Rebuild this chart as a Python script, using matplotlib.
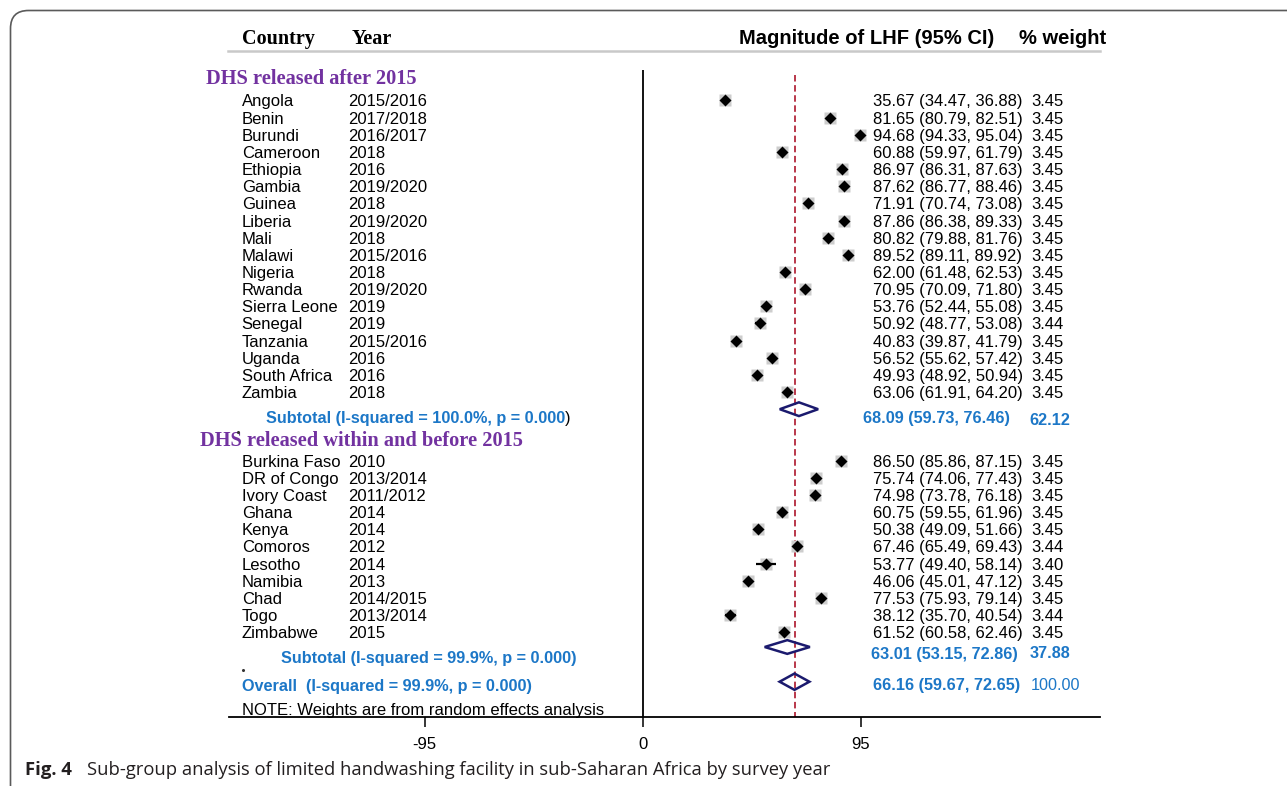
import numpy as np
import matplotlib
matplotlib.use("Agg")
import matplotlib.pyplot as plt
from matplotlib import transforms
from matplotlib.patches import Polygon, FancyBboxPatch
from matplotlib.lines import Line2D

# ---------------- data ----------------
countries1 = ["Angola", "Benin", "Burundi", "Cameroon", "Ethiopia", "Gambia", "Guinea",
              "Liberia", "Mali", "Malawi", "Nigeria", "Rwanda", "Sierra Leone", "Senegal",
              "Tanzania", "Uganda", "South Africa", "Zambia"]
years1 = ["2015/2016", "2017/2018", "2016/2017", "2018", "2016", "2019/2020", "2018",
          "2019/2020", "2018", "2015/2016", "2018", "2019/2020", "2019", "2019",
          "2015/2016", "2016", "2016", "2018"]
est1 = [35.67, 81.65, 94.68, 60.88, 86.97, 87.62, 71.91, 87.86, 80.82, 89.52, 62.00,
        70.95, 53.76, 50.92, 40.83, 56.52, 49.93, 63.06]
lo1 = [34.47, 80.79, 94.33, 59.97, 86.31, 86.77, 70.74, 86.38, 79.88, 89.11, 61.48,
       70.09, 52.44, 48.77, 39.87, 55.62, 48.92, 61.91]
hi1 = [36.88, 82.51, 95.04, 61.79, 87.63, 88.46, 73.08, 89.33, 81.76, 89.92, 62.53,
       71.80, 55.08, 53.08, 41.79, 57.42, 50.94, 64.20]
w1 = [3.45, 3.45, 3.45, 3.45, 3.45, 3.45, 3.45, 3.45, 3.45, 3.45, 3.45, 3.45, 3.45,
      3.44, 3.45, 3.45, 3.45, 3.45]

countries2 = ["Burkina Faso", "DR of Congo", "Ivory Coast", "Ghana", "Kenya", "Comoros",
              "Lesotho", "Namibia", "Chad", "Togo", "Zimbabwe"]
years2 = ["2010", "2013/2014", "2011/2012", "2014", "2014", "2012", "2014", "2013",
          "2014/2015", "2013/2014", "2015"]
est2 = [86.50, 75.74, 74.98, 60.75, 50.38, 67.46, 53.77, 46.06, 77.53, 38.12, 61.52]
lo2 = [85.86, 74.06, 73.78, 59.55, 49.09, 65.49, 49.40, 45.01, 75.93, 35.70, 60.58]
hi2 = [87.15, 77.43, 76.18, 61.96, 51.66, 69.43, 58.14, 47.12, 79.14, 40.54, 62.46]
w2 = [3.45, 3.45, 3.45, 3.45, 3.45, 3.44, 3.40, 3.45, 3.45, 3.44, 3.45]

group_titles = ["DHS released after 2015", "DHS released within and before 2015"]
sub_labels = ["Subtotal (I-squared = 100.0%, p = 0.000", "Subtotal (I-squared = 99.9%, p = 0.000)"]
sub_est = [68.09, 63.01]
sub_lo = [59.73, 53.15]
sub_hi = [76.46, 72.86]
sub_w = [62.12, 37.88]
overall_label = "Overall  (I-squared = 99.9%, p = 0.000)"
overall_est, overall_lo, overall_hi, overall_w = 66.16, 59.67, 72.65, 100.00
xticks = [-95, 0, 95]
note = "NOTE: Weights are from random effects analysis"
caption_bold = "Fig. 4"
caption = "Sub-group analysis of limited handwashing facility in sub-Saharan Africa by survey year"

# ---------------- layout ----------------
W, H = 1287, 786
fig = plt.figure(figsize=(W / 100, H / 100), dpi=100)
fig.patch.set_facecolor("white")

ROW0, ROWH = 100.5, 17.15          # pixel y of row 0, row height
def prow(ypx):
    return (ypx - ROW0) / ROWH

ax_top_px, ax_bot_px = 60, 716.7
ax = fig.add_axes([229 / W, 1 - ax_bot_px / H, (1100 - 229) / W, (ax_bot_px - ax_top_px) / H])
ax.set_xlim(-180.3, 199.3)
ax.set_ylim(prow(ax_bot_px), prow(ax_top_px))
ax.patch.set_alpha(0)
for s in ["top", "left", "right"]:
    ax.spines[s].set_visible(False)
ax.spines["bottom"].set_linewidth(1.3)
ax.set_yticks([])
ax.set_xticks(xticks)
ax.set_xticklabels([str(t) for t in xticks])
ax.tick_params(axis="x", length=7.5, width=1.1, pad=7, labelsize=12)
for lab in ax.get_xticklabels():
    lab.set_fontfamily("Liberation Sans")

SANS = "Liberation Sans"
SERIF = "Liberation Serif"
BLUE = "#1c77c7"
PURPLE = "#7232a0"
NAVY = "#1b1a6e"
T = transforms.blended_transform_factory(fig.transFigure, ax.transData)
DY = 1.5 / ROWH   # small downward nudge for text centring

def tx(xpx, row, s, **kw):
    kw.setdefault("family", SANS)
    kw.setdefault("fontsize", 12)
    kw.setdefault("va", "center")
    return ax.text(xpx / W, row + DY, s, transform=T, **kw)

# rows
rows1 = np.arange(len(countries1))
sub1_row = len(countries1)
head2_row = prow(440)
rows2 = sub1_row + 3 + np.arange(len(countries2))
sub2_row = prow(647)
overall_row = prow(681.7)

# reference lines
ax.vlines(0, prow(70), prow(ax_bot_px), color="black", lw=1.3, clip_on=False)
ax.vlines(overall_est, prow(75), prow(ax_bot_px), color="#b3283b", lw=1.3,
          linestyles=(0, (3.6, 2.0)), clip_on=False)

# studies
def draw_studies(rows, est, lo, hi, w):
    est = np.asarray(est); lo = np.asarray(lo); hi = np.asarray(hi); w = np.asarray(w)
    ax.hlines(rows, lo, hi, color="black", lw=1.6, zorder=3)
    for r, e, ww in zip(rows, est, w):
        ax.plot(e, r, marker="s", ms=8.2 * np.sqrt(ww / 3.45), color="#cdcdcd",
                mec="none", zorder=2)
    ax.plot(est, rows, ls="none", marker="D", ms=5.9, color="black", mec="none", zorder=4)

draw_studies(rows1, est1, lo1, hi1, w1)
draw_studies(rows2, est2, lo2, hi2, w2)

def diamond(row, e, l, h, height):
    poly = Polygon([(l, row), (e, row - height / 2), (h, row), (e, row + height / 2)],
                   closed=True, fill=False, ec=NAVY, lw=1.8, zorder=5, joinstyle="miter")
    ax.add_patch(poly)

diamond(sub1_row, sub_est[0], sub_lo[0], sub_hi[0], 0.8)
diamond(sub2_row, sub_est[1], sub_lo[1], sub_hi[1], 0.8)
diamond(overall_row, overall_est, overall_lo, overall_hi, 0.95)

# ---------------- texts ----------------
tx(242, prow(38), "Country", family=SERIF, fontweight="bold", fontsize=14.5)
tx(352, prow(38), "Year", family=SERIF, fontweight="bold", fontsize=14.5)
tx(739, prow(37), "Magnitude of LHF (95% CI)", fontweight="bold", fontsize=14.5)
tx(1019, prow(37), "% weight", fontweight="bold", fontsize=14.5)
fig.add_artist(Line2D([228 / W, 1100 / W], [1 - 51 / H, 1 - 51 / H], color="#c9c9c9", lw=1.8))

tx(206, prow(78), group_titles[0], family=SERIF, fontweight="bold", fontsize=14.7, color=PURPLE)
tx(200, head2_row, group_titles[1], family=SERIF, fontweight="bold", fontsize=14.7, color=PURPLE)

# small stray dots present in the original
fig.add_artist(Line2D([238 / W], [1 - 432 / H], marker="o", ms=1.2, color="#333333", ls="none"))
fig.add_artist(Line2D([242.5 / W], [1 - 670 / H], marker="o", ms=1.2, color="#333333", ls="none"))

for rows, cs, ys, es, ls, hs, ws in [(rows1, countries1, years1, est1, lo1, hi1, w1),
                                     (rows2, countries2, years2, est2, lo2, hi2, w2)]:
    for r, c, y, e, l, h, w in zip(rows, cs, ys, es, ls, hs, ws):
        tx(241.7, r, c)
        tx(347.7, r, y)
        tx(872.7, r, f"{e:.2f} ({l:.2f}, {h:.2f})")
        tx(1031.7, r, f"{w:.2f}")

t1 = tx(266, prow(416.7), sub_labels[0], fontweight="bold", fontsize=11.7, color=BLUE)
ax.annotate(")", xy=(1, 0.5), xycoords=t1, va="center", ha="left", family=SANS,
            fontsize=11.7, color="black")
tx(863.3, prow(417.5), f"{sub_est[0]:.2f} ({sub_lo[0]:.2f}, {sub_hi[0]:.2f})",
   fontweight="bold", fontsize=11.7, color=BLUE)
tx(1029.3, prow(419), f"{sub_w[0]:.2f}", fontweight="bold", fontsize=11.7, color=BLUE)

tx(281, prow(656.5), sub_labels[1], fontweight="bold", fontsize=11.7, color=BLUE)
tx(871, prow(652.7), f"{sub_est[1]:.2f} ({sub_lo[1]:.2f}, {sub_hi[1]:.2f})",
   fontweight="bold", fontsize=11.7, color=BLUE)
tx(1030, prow(651.5), f"{sub_w[1]:.2f}", fontweight="bold", fontsize=11.7, color=BLUE)

tx(241.7, prow(685), overall_label, fontweight="bold", fontsize=11.7, color=BLUE)
tx(873, prow(684), f"{overall_est:.2f} ({overall_lo:.2f}, {overall_hi:.2f})",
   fontweight="bold", fontsize=11.7, color=BLUE)
tx(1030.5, prow(684), f"{overall_w:.2f}", fontsize=11.7, color=BLUE)

tx(241.7, prow(709.5), note)

# ---------------- frame & caption ----------------
frame = FancyBboxPatch((10.5, -30), 1400, H - 10.5 + 30, transform=None,
                       boxstyle="round,pad=0,rounding_size=18", fill=False,
                       ec="#5a5a5a", lw=1.2)
fig.add_artist(frame)
fig.text(25 / W, 1 - 770 / H, caption_bold, family="Open Sans", fontweight="bold",
         fontsize=13.3, color="#231f20", va="center")
fig.text(87 / W, 1 - 770 / H, caption, family="Open Sans", fontsize=13.25,
         color="#231f20", va="center")

fig.savefig("out.png", dpi=100, facecolor="white")
